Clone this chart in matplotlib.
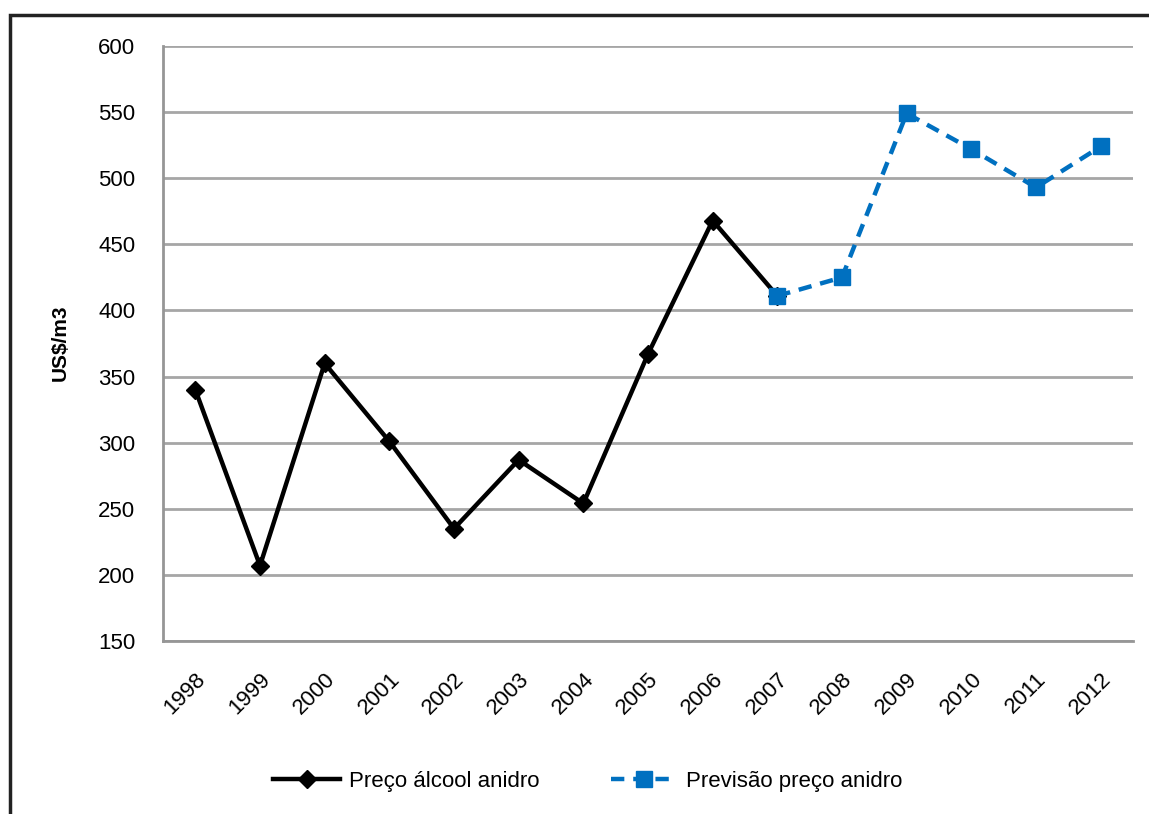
import matplotlib
matplotlib.use('Agg')
import matplotlib.pyplot as plt
from matplotlib.patches import Rectangle

# dados
anos = ['1998', '1999', '2000', '2001', '2002', '2003', '2004', '2005',
        '2006', '2007', '2008', '2009', '2010', '2011', '2012']
preco_anidro = [340, 207, 360, 301, 235, 287, 254, 367, 468, 411]
previsao_anidro = [411, 425, 549, 522, 493, 524]
y_ticks = [150, 200, 250, 300, 350, 400, 450, 500, 550, 600]

plt.rcParams['font.family'] = ['Liberation Sans', 'DejaVu Sans']

fig = plt.figure(figsize=(11.49, 8.14), dpi=100)
W, H = 1149, 814
ax = fig.add_axes([163 / W, 1 - 641 / H, 970 / W, 595 / H])

x_hist = list(range(len(preco_anidro)))
x_prev = list(range(len(preco_anidro) - 1, len(anos)))

ax.plot(x_hist, preco_anidro, color='black', lw=3.2, marker='D', ms=9,
        label='Preço álcool anidro', zorder=3)
ax.plot(x_prev, previsao_anidro, color='#0070C0', lw=3.2, ls=(0, (3, 2)),
        marker='s', ms=12, label='Previsão preço anidro', zorder=4)

ax.set_xlim(-0.5, len(anos) - 0.5)
ax.set_ylim(150, 600)
ax.set_yticks(y_ticks)
ax.set_xticks(range(len(anos)))
ax.set_xticklabels(anos, rotation=45, ha='right', rotation_mode='anchor')
ax.tick_params(axis='both', labelsize=16, length=0)
ax.tick_params(axis='y', pad=20)
ax.tick_params(axis='x', pad=20)
ax.yaxis.grid(True, color='#a6a6a6', lw=2)
ax.set_axisbelow(True)
for s in ['top', 'right']:
    ax.spines[s].set_visible(False)
for s in ['left', 'bottom']:
    ax.spines[s].set_color('#969696')
    ax.spines[s].set_linewidth(2)

fig.text(60 / W, 1 - 343 / H, 'US$/m3', rotation=90, fontsize=15,
         fontweight='bold', ha='center', va='center')

fig.legend(loc='center', bbox_to_anchor=(588 / W, 1 - 781 / H), ncol=2,
           frameon=False, fontsize=16, handlelength=3.0, columnspacing=3.2,
           handletextpad=0.4)

# moldura
fig.patches.append(Rectangle((10 / W, -0.1), 1.2, 1.1 - 15 / H,
                             transform=fig.transFigure, fill=False,
                             edgecolor='#222222', lw=2.5))

fig.savefig('out.png', dpi=100)
